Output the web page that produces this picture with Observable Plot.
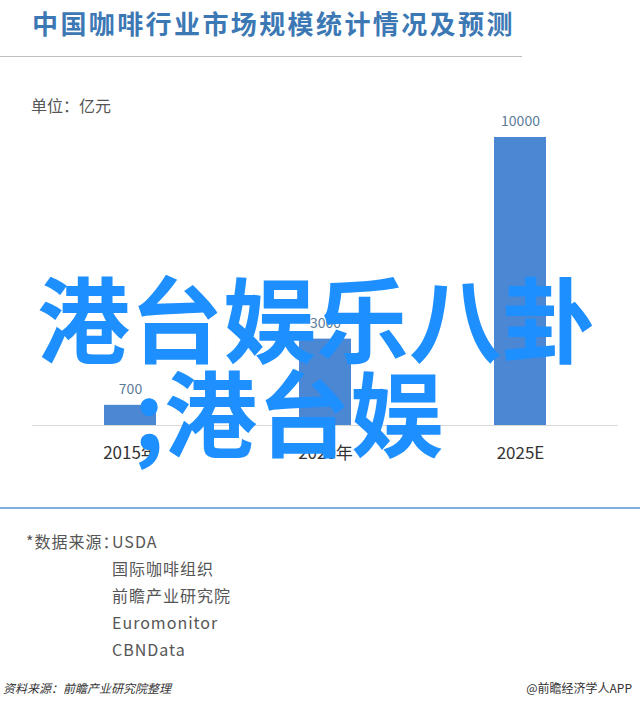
<!DOCTYPE html>
<html>
<head>
<meta charset="utf-8">
<script src="https://cdn.jsdelivr.net/npm/d3@7"></script>
<script src="https://cdn.jsdelivr.net/npm/@observablehq/plot@0.6"></script>
<style>
  html, body { margin: 0; padding: 0; background: #fff; }
  body { width: 640px; height: 704px; position: relative; overflow: hidden;
         font-family: "Noto Sans CJK SC", "Noto Sans", sans-serif; }
  .abs { position: absolute; white-space: nowrap; }
  #title { left: 32px; top: 6px; font-size: 26px; line-height: 34px; font-weight: 700;
           color: #3c78b4; letter-spacing: 2.4px; }
  #rule1 { left: 0; top: 56px; width: 522px; height: 0; border-top: 1px solid #bdbdbd; }
  #unit { left: 31px; top: 93px; font-size: 16px; line-height: 24px; color: #555; }
  #chart { left: 0; top: 110px; }
  #rule2 { left: 0; top: 507px; width: 640px; height: 0; border-top: 2px solid #7fb0dc; }
  .src { font-size: 16px; line-height: 22px; color: #555; letter-spacing: 1px; }
  #foot1 { left: 3px; top: 679px; font-size: 12px; line-height: 18px; color: #333; font-style: italic; }
  #foot2 { right: 8px; top: 679px; font-size: 12px; line-height: 18px; color: #333; }
  .big { font-size: 93px; line-height: 94px; color: #1e8fff; font-weight: 700; }
</style>
</head>
<body>
<div id="title" class="abs"></div>
<div id="rule1" class="abs"></div>
<div id="unit" class="abs"></div>
<div id="chart" class="abs"></div>
<div id="rule2" class="abs"></div>
<div id="sources"></div>
<div id="foot1" class="abs"></div>
<div id="foot2" class="abs"></div>
<div id="big"></div>
<script>
// ---- data ----
const titleText = "中国咖啡行业市场规模统计情况及预测";
const unitText = "单位：亿元";
const years = ["2015年", "2020年", "2025E"];
const values = [700, 3000, 10000];
const valueLabels = ["700", "3000", "10000"];
const sourceHead = "*数据来源：";
const sources = ["USDA", "国际咖啡组织", "前瞻产业研究院", "Euromonitor", "CBNData"];
const footLeft = "资料来源：前瞻产业研究院整理";
const footRight = "@前瞻经济学人APP";
const overlayLines = ["港台娱乐八卦", ";港台娱"];

const data = years.map((y, i) => ({year: y, value: values[i], label: valueLabels[i]}));

document.getElementById("title").textContent = titleText;
document.getElementById("unit").textContent = unitText;
document.getElementById("foot1").textContent = footLeft;
document.getElementById("foot2").textContent = footRight;

// sources block
const srcTops = [530, 557, 584, 611, 638];
const srcWrap = document.getElementById("sources");
const head = document.createElement("div");
head.className = "abs src";
head.style.left = "26px"; head.style.top = srcTops[0] + "px";
head.textContent = sourceHead;
srcWrap.appendChild(head);
sources.forEach((s, i) => {
  const d = document.createElement("div");
  d.className = "abs src";
  d.style.left = "112px"; d.style.top = srcTops[i] + "px";
  d.textContent = s;
  srcWrap.appendChild(d);
});

// chart
const chart = Plot.plot({
  width: 640,
  height: 365,
  marginTop: 27,
  marginBottom: 50,
  marginLeft: 32,
  marginRight: 22,
  style: {fontFamily: "'Noto Sans CJK SC', 'Noto Sans', sans-serif", background: "transparent", overflow: "visible"},
  x: {domain: years, paddingInner: 0.733, paddingOuter: 0.367, label: null},
  y: {domain: [0, 10000], axis: null},
  marks: [
    Plot.ruleY([0], {stroke: "#d9d9d9", strokeWidth: 1}),
    Plot.barY(data, {x: "year", y: "value", fill: "#4b87d3"}),
    Plot.text(data, {x: "year", y: "value", text: "label", dy: -16, fill: "#5b7c99", fontSize: 14}),
    Plot.axisX({tickSize: 0, tickPadding: 21, fontSize: 17, fill: "#333", label: null})
  ]
});
document.getElementById("chart").appendChild(chart);

// overlay big text
const big = document.getElementById("big");
const bigLeft = [37, 134];
const bigTop = [269, 363];
overlayLines.forEach((t, i) => {
  const d = document.createElement("div");
  d.className = "abs big";
  d.style.left = bigLeft[i] + "px"; d.style.top = bigTop[i] + "px";
  d.textContent = t;
  big.appendChild(d);
});
</script>
</body>
</html>
